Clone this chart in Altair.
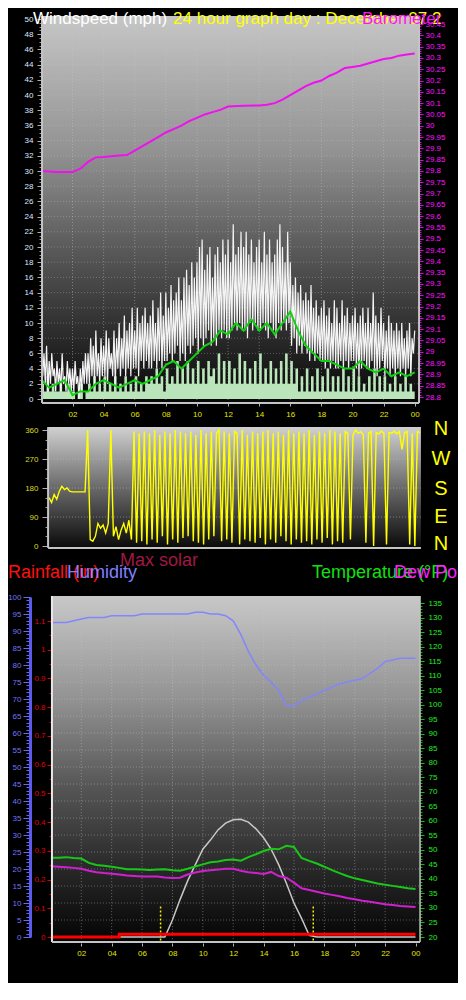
import altair as alt
import pandas as pd

OFF = 8          # reference pixel -> chart pixel shift (page margin compensation)
W, H = 450, 975
FONT = "Liberation Sans"

# ---------------- data ----------------
# 5-minute wind gusts, 00:00 .. 24:00
GUST = [8, 3, 6, 2, 7, 1, 5, 2, 6, 3, 4, 1,
        5, 2, 4, 1, 6, 2, 3, 1, 5, 2, 4, 1,
        4, 1, 5, 2, 3, 0, 4, 1, 5, 2, 6, 2,
        6, 2, 8, 3, 7, 2, 9, 3, 6, 2, 8, 3,
        7, 3, 9, 2, 8, 4, 6, 3, 9, 2, 8, 4,
        10, 3, 8, 4, 11, 3, 9, 4, 10, 3, 12, 4,
        9, 4, 12, 3, 10, 5, 11, 4, 12, 5, 10, 4,
        11, 4, 13, 5, 10, 4, 12, 5, 14, 4, 11, 5,
        14, 5, 12, 6, 15, 5, 13, 6, 14, 7, 16, 5,
        13, 6, 16, 5, 17, 7, 15, 6, 18, 7, 16, 8,
        18, 6, 20, 8, 21, 7, 17, 8, 19, 9, 20, 7,
        16, 8, 19, 7, 20, 9, 18, 8, 21, 9, 19, 8,
        21, 8, 18, 9, 23, 10, 19, 9, 20, 10, 22, 9,
        20, 9, 22, 8, 19, 10, 21, 9, 18, 10, 20, 9,
        21, 9, 18, 10, 22, 9, 19, 8, 21, 10, 18, 9,
        19, 8, 21, 10, 23, 9, 20, 10, 18, 9, 22, 10,
        18, 7, 15, 8, 16, 6, 14, 7, 15, 6, 13, 7,
        14, 6, 13, 5, 15, 6, 12, 5, 13, 6, 11, 5,
        12, 5, 13, 4, 11, 5, 12, 4, 10, 5, 13, 4,
        12, 4, 10, 5, 13, 4, 11, 5, 12, 4, 10, 5,
        11, 5, 12, 4, 10, 3, 11, 4, 12, 5, 10, 4,
        12, 4, 10, 5, 14, 4, 11, 3, 10, 4, 12, 5,
        10, 3, 9, 4, 11, 3, 10, 4, 9, 3, 10, 4,
        9, 3, 10, 4, 8, 3, 9, 4, 10, 3, 8, 6,
        9]
# 10-minute wind speed and direction, 00:00 .. 24:00
SPEED = [2, 1, 3, 1, 2, 1, 1, 2, 1, 1, 2, 1, 1, 0, 1, 2, 0, 1, 2, 1, 3, 1, 2, 1,
         3, 1, 2, 1, 3, 1, 2, 1, 3, 1, 2, 1, 3, 1, 2, 1, 3, 2, 3, 2, 4, 2, 3, 1,
         4, 2, 3, 2, 5, 2, 4, 2, 5, 2, 4, 2, 5, 2, 4, 2, 5, 3, 4, 2, 6, 2, 5, 2,
         5, 2, 4, 2, 6, 2, 5, 2, 4, 2, 5, 2, 6, 2, 4, 2, 5, 2, 4, 2, 5, 2, 6, 2,
         5, 2, 4, 1, 3, 1, 4, 1, 3, 1, 4, 1, 3, 1, 4, 1, 3, 1, 3, 1, 4, 1, 3, 1,
         4, 1, 3, 1, 2, 1, 3, 1, 4, 1, 3, 1, 3, 1, 2, 1, 3, 1, 2, 1, 3, 1, 2, 1, 2]
DIRECTION = [150, 135, 160, 145, 170, 185, 175, 180, 170, 168, 168, 168,
             168, 168, 168, 360, 20, 15, 30, 70, 55, 65, 40, 70,
             360, 30, 60, 20, 50, 70, 40, 80, 20, 355, 10, 350,
             15, 355, 5, 350, 20, 360, 10, 345, 30, 355, 5, 350,
             20, 360, 10, 355, 25, 350, 30, 355, 15, 345, 10, 360,
             5, 350, 20, 355, 30, 350, 360, 15, 355, 20, 350, 10,
             355, 350, 5, 360, 20, 345, 15, 355, 10, 350, 25, 355,
             5, 360, 20, 350, 10, 355, 30, 345, 15, 360, 5, 350,
             20, 355, 10, 350, 15, 360, 5, 345, 20, 355, 10, 350,
             25, 360, 5, 355, 15, 350, 10, 355, 350, 20, 345, 360,
             350, 355, 345, 10, 350, 355, 0, 352, 348, 356, 350, 5,
             352, 350, 356, 348, 355, 300, 352, 355, 5, 350, 0, 355, 352]
# half-hourly series, 00:00 .. 24:00
WIND_AVG = [2.5, 1.5, 2, 2.5, 0.5, 1, 1, 2, 2.5, 2, 1.5, 2, 2.5, 2, 2.5, 3, 4.5, 5, 4, 5,
            6, 7, 7.5, 9, 8.5, 10, 9, 10.5, 9, 10, 8.5, 10, 11.5, 9, 7, 6, 5, 5, 4.5, 4,
            4, 5, 4, 3.5, 4, 3, 3.5, 3, 3.5]
HUMIDITY = [92.5, 92.5, 92.5, 93, 93.5, 94, 94, 94, 94.5, 94.5, 94.5, 94.5, 95, 95, 95, 95,
            95, 95, 95, 95.5, 95.5, 95, 95, 94.5, 93, 89, 84, 80, 77, 75, 72.5, 68, 68, 69.5,
            70.5, 71.5, 72.5, 73.5, 74.5, 75, 75.5, 76, 77.5, 79, 81, 81.5, 82, 82, 82]
TEMPERATURE = [47.3, 47.3, 47.5, 47.2, 47, 45.5, 44.8, 44.5, 44.2, 43.8, 43.3, 43.3, 43.2,
               43.1, 43.2, 43.3, 43, 42.8, 43.5, 44.3, 45, 45.7, 46, 46.5, 46.7, 46.3, 47.5,
               48.5, 49.6, 50.4, 50.2, 51.4, 51, 47.2, 46.2, 45.3, 44.2, 43, 42, 41, 40.2,
               39.6, 39, 38.4, 38, 37.6, 37.2, 36.8, 36.5]
DEWPOINT = [44.4, 44.2, 44, 43.8, 43.5, 42.8, 42.3, 42, 41.8, 41.5, 41.2, 41, 40.8, 40.8,
            40.8, 40.5, 40.3, 40.4, 41.5, 42.2, 42.7, 43, 43.2, 43.5, 43.5, 42.8, 42.3, 42,
            41.7, 42.4, 41, 40.4, 38.7, 36.8, 36.2, 35.6, 35, 34.5, 34, 33.4, 33, 32.5,
            32.1, 31.7, 31.3, 31, 30.7, 30.5, 30.3]
MAX_SOLAR = [0, 0, 0, 0, 0, 0, 0, 0, 0, 0, 0, 0, 0, 0, 0,
             0, 50, 110, 165, 212, 258, 285, 315, 335, 345, 346, 338, 318, 292, 258,
             212, 158, 100, 55, 5, 0,
             0, 0, 0, 0, 0, 0, 0, 0, 0, 0, 0, 0, 0]
PRES_HOURS = [0, 1, 2, 2.5, 3, 3.5, 4, 5, 5.5, 6, 6.5, 7, 7.5, 8, 8.5, 9, 9.5, 10, 10.5, 11,
              11.5, 12, 13, 14, 14.5, 15, 15.5, 16, 16.5, 17, 17.5, 18, 18.5, 19, 19.5, 20,
              20.5, 21, 21.5, 22, 22.5, 23, 23.5, 24]
PRESSURE = [29.80, 29.795, 29.795, 29.81, 29.84, 29.86, 29.862, 29.868, 29.87, 29.89, 29.91,
            29.93, 29.95, 29.97, 29.985, 30.0, 30.02, 30.035, 30.05, 30.06, 30.07, 30.085,
            30.088, 30.09, 30.093, 30.1, 30.115, 30.135, 30.155, 30.175, 30.19, 30.2, 30.22,
            30.235, 30.255, 30.26, 30.265, 30.275, 30.285, 30.295, 30.3, 30.31, 30.315, 30.32]
RAIN_HOURS = [0, 4.5, 24]
RAIN = [0, 0.01, 0.01]
SUN_HOURS = [7.22, 17.27]           # sunrise / sunset markers
HOUR_TICKS = [2, 4, 6, 8, 10, 12, 14, 16, 18, 20, 22, 24]

T5 = [i / 12 for i in range(len(GUST))]
T10 = [i / 6 for i in range(len(SPEED))]
T30 = [i / 2 for i in range(len(HUMIDITY))]


def px(v):
    return v - OFF


def sc(domain, r0, r1):
    return alt.Scale(domain=domain, range=[px(r0), px(r1)], nice=False, zero=False)


TOP_X = sc([0, 24], 41.4, 414.7)
WIND_Y = sc([0, 50], 399, 19)
PRES_Y = sc([28.8, 30.45], 397, 24)
DIR_X = sc([0, 24], 49, 420)
DIR_Y = sc([0, 360], 546, 430)
BOT_X = sc([0, 24], 50.9, 415.5)
HUM_Y = sc([0, 100], 937, 597)
RAIN_Y = sc([0, 1.1], 937, 621)
TEMP_Y = sc([20, 135], 937, 603)
SOLAR_Y = sc([0, 1000], 937, 597)

# panel extents in data units
TOP_XR, TOP_YR = [0.04, 24.28], [-0.53, 50.4]
DIR_XR, DIR_YR = [-0.06, 24.06], [-6, 369]
BOT_XR, BOT_YR = [0.07, 24.3], [-1.5, 100.3]


def xe(f, s):
    return alt.X(f, type="quantitative", scale=s, axis=None)


def ye(f, s):
    return alt.Y(f, type="quantitative", scale=s, axis=None)


def grad(stops):
    return alt.LinearGradient(gradient="linear", x1=0, x2=0, y1=0, y2=1,
                              stops=[alt.GradientStop(offset=o, color=c) for o, c in stops])


def background(xr, yr, xs, ys, stops):
    d = pd.DataFrame({"x0": [xr[0]], "x1": [xr[1]], "y0": [yr[0]], "y1": [yr[1]]})
    return alt.Chart(d).mark_rect(color=grad(stops)).encode(
        x=xe("x0", xs), x2="x1", y=ye("y0", ys), y2="y1")


def hrules(vals, xr, xs, ys, color, width=1, dash=None, opacity=1.0):
    d = pd.DataFrame({"v": vals, "x0": [xr[0]] * len(vals), "x1": [xr[1]] * len(vals)})
    kw = dict(color=color, strokeWidth=width, opacity=opacity)
    if dash:
        kw["strokeDash"] = dash
    return alt.Chart(d).mark_rule(**kw).encode(y=ye("v", ys), x=xe("x0", xs), x2="x1")


def vrules(vals, yr, xs, ys, color, width=1, dash=None, opacity=1.0):
    d = pd.DataFrame({"v": vals, "y0": [yr[0]] * len(vals), "y1": [yr[1]] * len(vals)})
    kw = dict(color=color, strokeWidth=width, opacity=opacity)
    if dash:
        kw["strokeDash"] = dash
    return alt.Chart(d).mark_rule(**kw).encode(x=xe("v", xs), y=ye("y0", ys), y2="y1")


def series(hours, vals, xs, ys, color, width=1.0, interp="linear", opacity=1.0):
    d = pd.DataFrame({"h": hours, "v": vals})
    return alt.Chart(d).mark_line(color=color, strokeWidth=width, interpolate=interp,
                                  opacity=opacity).encode(x=xe("h", xs), y=ye("v", ys))


def area(hours, vals, xs, ys, color, interp="linear", opacity=1.0):
    d = pd.DataFrame({"h": hours, "v": vals})
    return alt.Chart(d).mark_area(color=color, interpolate=interp, opacity=opacity).encode(
        x=xe("h", xs), y=ye("v", ys))


def axis_only(channel, vals, scale, **kw):
    d = pd.DataFrame({"v": [vals[0]]})
    base = dict(values=vals, title=None, grid=False, labelOverlap=False, labelFlush=False,
                labelFont=FONT, labelFontSize=8)
    base.update(kw)
    ax = alt.Axis(**base)
    enc = (alt.Y("v", type="quantitative", scale=scale, axis=ax) if channel == "y"
           else alt.X("v", type="quantitative", scale=scale, axis=ax))
    return alt.Chart(d).mark_point(opacity=0, size=1).encode(**{channel: enc})


def text(t, x, y, color, size=18, align="left"):
    return alt.Chart(pd.DataFrame({"a": [0]})).mark_text(
        text=t, color=color, font=FONT, fontSize=size, align=align, baseline="alphabetic"
    ).encode(x=alt.value(px(x)), y=alt.value(px(y)))


def steps(a, b, s):
    out, v = [], a
    while v <= b + 1e-9:
        out.append(round(v, 4))
        v += s
    return out


HOUR_LABEL = "datum.value == 24 ? '00' : (datum.value < 10 ? '0' + datum.value : '' + datum.value)"
GRID = "#c8c8c8"
FRAME = "#c4c4c4"

layers = []

# ---------- top panel: windspeed + barometer ----------
layers += [
    background(TOP_XR, TOP_YR, TOP_X, WIND_Y,
               [(0, "#c6c6c6"), (0.35, "#929292"), (0.6, "#5a5a5a"), (0.82, "#2c2c2c"), (1, "#060606")]),
    hrules(steps(2, 48, 2), TOP_XR, TOP_X, WIND_Y, GRID, 1, [1, 2], 0.35),
    vrules(HOUR_TICKS[:-1], TOP_YR, TOP_X, WIND_Y, GRID, 1, [1, 2], 0.45),
    area(T10, SPEED, TOP_X, WIND_Y, "#c4f0c4", "step-after", 0.95),
    series(T5, GUST, TOP_X, WIND_Y, "#f4f4f4", 1.2),
    series(T30, WIND_AVG, TOP_X, WIND_Y, "#10d010", 2),
    series(PRES_HOURS, PRESSURE, TOP_X, PRES_Y, "#f010f0", 2),
    vrules([TOP_XR[0], TOP_XR[1]], TOP_YR, TOP_X, WIND_Y, FRAME, 2),
    hrules([TOP_YR[0]], TOP_XR, TOP_X, WIND_Y, FRAME, 2),
    axis_only("y", steps(0, 50, 0.5), WIND_Y, orient="left", offset=-px(42), labels=False,
              domain=False, tickColor="#9a9a9a", tickSize=3),
    axis_only("y", steps(0, 50, 2), WIND_Y, orient="left", offset=-px(42), domain=False,
              tickColor="#b0b0b0", tickSize=5, labelPadding=4, labelColor="#dfe8ff"),
    axis_only("y", steps(28.8, 30.45, 0.01), PRES_Y, orient="right", offset=px(419) - W,
              labels=False, domain=False, tickColor="#d000d0", tickSize=2),
    axis_only("y", steps(28.8, 30.45, 0.05), PRES_Y, orient="right", offset=px(419) - W,
              domain=False, tickColor="#e000e0", tickSize=4, labelPadding=2,
              labelColor="#ff10ff", format="~g"),
    axis_only("x", HOUR_TICKS, TOP_X, orient="bottom", offset=px(403) - H, domain=False,
              tickColor="#b0b0b0", tickSize=3, labelPadding=4, labelColor="#e6e600",
              labelExpr=HOUR_LABEL),
]

# ---------- wind direction panel ----------
layers += [
    background(DIR_XR, DIR_YR, DIR_X, DIR_Y,
               [(0, "#d0d0d0"), (0.5, "#6a6a6a"), (1, "#0a0a0a")]),
    hrules([90, 180, 270], DIR_XR, DIR_X, DIR_Y, GRID, 1, [1, 2], 0.5),
    series(T10, DIRECTION, DIR_X, DIR_Y, "#ffff00", 1.4),
    vrules([DIR_XR[0]], DIR_YR, DIR_X, DIR_Y, FRAME, 2),
    hrules([DIR_YR[0]], DIR_XR, DIR_X, DIR_Y, FRAME, 2),
    axis_only("y", steps(0, 360, 30), DIR_Y, orient="left", offset=-px(48), labels=False,
              domain=False, tickColor="#9a9a9a", tickSize=3),
    axis_only("y", steps(0, 360, 90), DIR_Y, orient="left", offset=-px(48), domain=False,
              tickColor="#b0b0b0", tickSize=6, labelPadding=4, labelColor="#dada22"),
]

# ---------- bottom panel: rain / humidity / temperature / dew point ----------
layers += [
    background(BOT_XR, BOT_YR, BOT_X, HUM_Y,
               [(0, "#c8c8c8"), (0.3, "#929292"), (0.55, "#565656"), (0.8, "#262626"), (1, "#040404")]),
    hrules(steps(5, 95, 5), BOT_XR, BOT_X, HUM_Y, GRID, 1, [1, 2], 0.4),
    vrules(HOUR_TICKS[:-1], BOT_YR, BOT_X, HUM_Y, GRID, 1, [1, 2], 0.45),
    vrules(SUN_HOURS, [-1, 9.5], BOT_X, HUM_Y, "#f0f000", 1.5, [2, 2]),
    series(T30, MAX_SOLAR, BOT_X, SOLAR_Y, "#c8c8c8", 1.5),
    series(RAIN_HOURS, RAIN, BOT_X, RAIN_Y, "#ff0000", 3, "step-after"),
    series(T30, TEMPERATURE, BOT_X, TEMP_Y, "#18c818", 2),
    series(T30, DEWPOINT, BOT_X, TEMP_Y, "#d020d0", 2),
    series(T30, HUMIDITY, BOT_X, HUM_Y, "#8484ff", 1.5),
    vrules([BOT_XR[0]], BOT_YR, BOT_X, HUM_Y, "#e8e8e8", 2),
    vrules([BOT_XR[1]], BOT_YR, BOT_X, HUM_Y, FRAME, 1.5),
    hrules([BOT_YR[0]], BOT_XR, BOT_X, HUM_Y, FRAME, 2),
    axis_only("y", steps(0, 100, 1), HUM_Y, orient="left", offset=-px(30), labels=False,
              domain=True, domainColor="#5a5af0", domainWidth=3, tickColor="#6a6af0", tickSize=4),
    axis_only("y", steps(0, 100, 5), HUM_Y, orient="left", offset=-px(30), domain=False,
              tickColor="#6a6af0", tickSize=7, labelPadding=2, labelColor="#7474f4"),
    axis_only("y", steps(0, 1.15, 0.05), RAIN_Y, orient="left", offset=-px(52), labels=False,
              domain=False, tickColor="#c00000", tickSize=3),
    axis_only("y", steps(0, 1.1, 0.1), RAIN_Y, orient="left", offset=-px(52), domain=False,
              tickColor="#d00000", tickSize=5, labelPadding=2, labelColor="#e00000", format="~g"),
    axis_only("y", steps(20, 136, 1), TEMP_Y, orient="right", offset=px(420) - W,
              labels=False, domain=False, tickColor="#10b010", tickSize=2),
    axis_only("y", steps(20, 135, 5), TEMP_Y, orient="right", offset=px(420) - W,
              domain=False, tickColor="#10c010", tickSize=4, labelPadding=4, labelColor="#22ee22"),
    axis_only("x", HOUR_TICKS, BOT_X, orient="bottom", offset=px(943) - H, domain=False,
              tickColor="#b0b0b0", tickSize=3, labelPadding=3, labelColor="#e6e600",
              labelExpr=HOUR_LABEL),
]

# ---------- titles / legends as text ----------
layers += [
    text("Windspeed (mph)", 33, 24, "#ffffff", 17),
    text("24 hour graph day : December 07 2", 173, 24, "#ffff00", 17),
    text("Barometer", 362, 24, "#ff10ff", 17),
    text("N", 441, 435, "#ffff00", 20, "center"),
    text("W", 441, 465, "#ffff00", 20, "center"),
    text("S", 441, 495, "#ffff00", 20, "center"),
    text("E", 441, 523, "#ffff00", 20, "center"),
    text("N", 441, 550, "#ffff00", 20, "center"),
    text("Max solar", 120, 566, "#a01844"),
    text("Rainfall (in)", 8, 578, "#ff1010"),
    text("Humidity", 67, 578, "#8080ff"),
    text("Temperature (°F)", 312, 578, "#10e010"),
    text("Dew Point", 394, 578, "#ff20ff"),
]

chart = (
    alt.layer(*layers)
    .resolve_scale(x="independent", y="independent")
    .resolve_axis(x="independent", y="independent")
    .properties(width=W, height=H, background="black", padding=0,
                autosize=alt.AutoSizeParams(type="none"))
    .configure_view(strokeWidth=0)
)

chart.save("out.html", embed_options={"renderer": "svg", "actions": False})
